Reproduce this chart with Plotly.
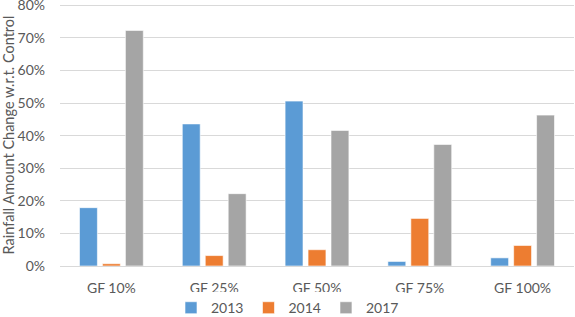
import plotly.graph_objects as go

categories = ["GF 10%", "GF 25%", "GF 50%", "GF 75%", "GF 100%"]
s2013 = [17.9, 43.6, 50.6, 1.4, 2.5]
s2014 = [0.7, 3.2, 5.0, 14.6, 6.3]
s2017 = [72.3, 22.2, 41.6, 37.3, 46.3]
series = [("2013", s2013, "#5B9BD5"), ("2014", s2014, "#ED7D31"), ("2017", s2017, "#A5A5A5")]
yticks = [0, 10, 20, 30, 40, 50, 60, 70, 80]

fig = go.Figure()
for name, vals, col in series:
    fig.add_trace(go.Bar(x=categories, y=vals, name=name, marker_color=col,
                         marker_line=dict(color="rgba(255,255,255,0.6)", width=1)))

fig.update_layout(
    width=575, height=317,
    margin=dict(l=60, r=1, t=4, b=51, autoexpand=False),
    paper_bgcolor="white", plot_bgcolor="white",
    barmode="group", bargap=0.33, bargroupgap=0.22,
    font=dict(family="Lato, Liberation Sans, sans-serif", color="#595959", size=14),
    legend=dict(orientation="h", x=0.5, xref="container", xanchor="center",
                y=0.028, yref="container", yanchor="middle",
                font=dict(size=14), itemwidth=30, tracegroupgap=0),
    xaxis=dict(showgrid=False, showline=False, ticks="", tickfont=dict(size=14),
               ticklabelstandoff=12),
    yaxis=dict(range=[0, 80.4], tickvals=yticks, ticktext=[f"{v}%" for v in yticks],
               showgrid=True, gridcolor="#D9D9D9", gridwidth=1,
               zeroline=True, zerolinecolor="#D9D9D9", zerolinewidth=1,
               ticklabeloverflow="allow",
               title=dict(text="Rainfall Amount Change w.r.t. Control", font=dict(size=14.5), standoff=4),
               tickfont=dict(size=14), ticklabelstandoff=14),
)
fig.write_html("out.html", post_script="document.body.style.margin='0';",
               config={"displayModeBar": False})
